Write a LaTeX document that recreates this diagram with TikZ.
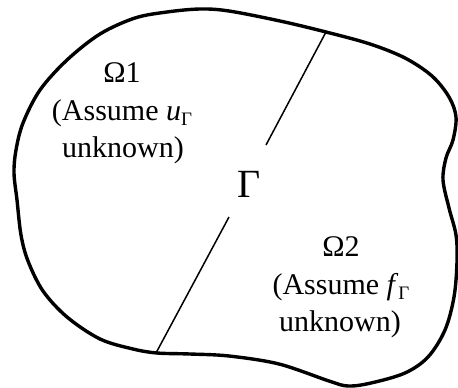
\documentclass[tikz,border=0pt]{standalone}
\usepackage{fontspec}
\setmainfont{Liberation Serif}
\newcommand{\subG}{\raisebox{-5pt}{\fontsize{19}{19}\selectfont Γ}}
\begin{document}
\begin{tikzpicture}[x=1pt,y=-1pt,
  outline/.style={line width=3.4pt,line join=round},
  iface/.style={line width=1.5pt},
  regtext/.style={font=\fontsize{30}{37}\selectfont,anchor=base,inner sep=0pt},
  gammatext/.style={font=\fontsize{40}{40}\selectfont,anchor=base,inner sep=0pt}]
\useasboundingbox (0,0) rectangle (458,388);
\fill[white] (0,0) rectangle (458,388);
\draw[outline] plot[smooth cycle,tension=0.55] coordinates {
 (326,32) (370,44) (405,58) (432,76) (449,97) (456,117) (453,140) (446,158)
 (443,180) (449,208) (456,235) (457,262) (454,297) (445,330) (428,357)
 (405,373) (371,383) (348,386) (329,381) (279,364) (229,356) (190,354)
 (157,353) (133,349) (100,339) (67,317) (43,291) (28,261) (21,235)
 (17,200) (14,173) (16,150) (23,123) (40,90) (67,60) (100,34) (135,18)
 (167,12) (200,9) (229,11) (280,21)};
\coordinate (itop) at (326,32);
\coordinate (igapa) at (266,145);
\coordinate (igapb) at (229,217);
\coordinate (ibot) at (156,353);
\draw[iface] (itop) -- (igapa);
\draw[iface] (igapb) -- (ibot);
\node[gammatext] (gam) at (249,197) {Γ};
\node[regtext] (om1) at (122,82) {Ω1};
\node[regtext] (as1) at (122,120) {(Assume \textit{u}\subG};
\node[regtext] (un1) at (123,157) {unknown)};
\node[regtext] (om2) at (341,256) {Ω2};
\node[regtext] (as2) at (341,294) {(Assume \textit{f}\subG};
\node[regtext] (un2) at (340,331) {unknown)};
\end{tikzpicture}
\end{document}
